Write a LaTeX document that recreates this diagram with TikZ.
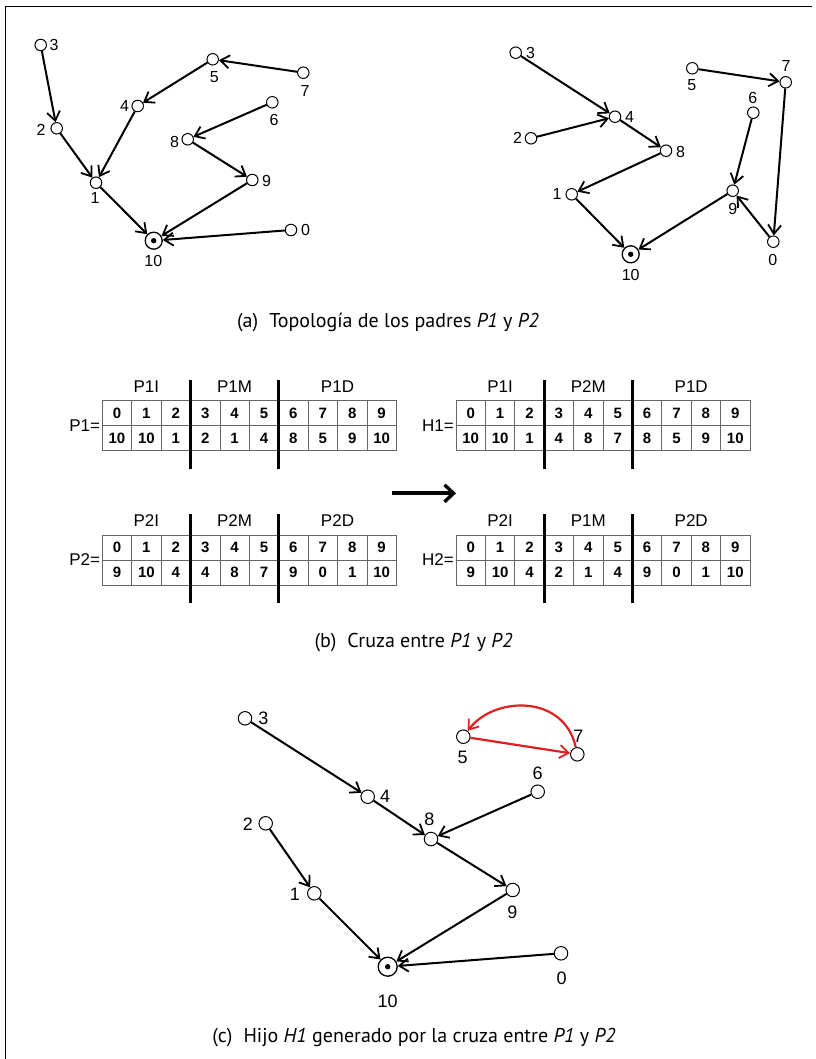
\documentclass[tikz,border=0pt]{standalone}
\usepackage{fontspec}
\setmainfont{PT Sans}
\newfontfamily\arial{Liberation Sans}
\usetikzlibrary{arrows.meta}
\newcommand\gatable[6]{%
  \begin{scope}[shift={(#1,#2)}]
    \draw[tgrid] (0,0) rectangle (294,50);
    \foreach \i in {1,2,4,5,7,8,9} \draw[tgrid] (\i*29.4,0) -- (\i*29.4,50);
    \draw[tgrid] (0,25) -- (294,25);
    \foreach \i in {3,6} \draw[sepline] (\i*29.4,-21) -- (\i*29.4,68);
    \node[hdr] (#3hI) at (44.1,-14) {#4};
    \node[hdr] (#3hM) at (132.3,-14) {#5};
    \node[hdr] (#3hD) at (235.2,-14) {#6};
    \node[hdr,anchor=east] (#3lbl) at (-2,25) {#3=};
    \foreach \v [count=\k from 0] in {0,1,2,3,4,5,6,7,8,9}
      \node[cell] (#3t\k) at (\k*29.4+14.7,12.5) {\v};
  \end{scope}}
\newcommand\gabottom[4]{%
  \begin{scope}[shift={(#1,#2)}]
    \foreach \v [count=\k from 0] in {#4}
      \node[cell] (#3b\k) at (\k*29.4+14.7,37.5) {\v};
  \end{scope}}
\begin{document}
\begin{tikzpicture}[x=1pt,y=-1pt,
  v/.style={circle,draw,line width=1pt,minimum size=11.5pt,inner sep=0pt,fill=white},
  vc/.style={v,minimum size=13.5pt},
  root/.style={circle,draw,line width=1.3pt,minimum size=17pt,inner sep=0pt,fill=white,
     path picture={\fill[black] (path picture bounding box.center) circle (2.7pt);}},
  lbl/.style={font=\arial\fontsize{16}{16}\selectfont,inner sep=0pt},
  lblc/.style={font=\arial\fontsize{18}{18}\selectfont,inner sep=0pt},
  e/.style={-{Straight Barb[length=9pt,width=13pt,line width=1.8pt]},line width=2pt,black},
  re/.style={-{Straight Barb[length=9pt,width=13pt,line width=1.8pt]},line width=2.2pt,redc},
  tgrid/.style={draw=black!60,line width=0.7pt},
  sepline/.style={line width=2.8pt,black},
  hdr/.style={font=\arial\fontsize{17}{17}\selectfont,inner sep=0pt},
  cell/.style={font=\arial\bfseries\fontsize{15}{15}\selectfont,inner sep=0pt},
  captext/.style={font=\fontsize{20}{20}\selectfont,inner sep=0pt}
]
\definecolor{redc}{RGB}{222,32,32}
\useasboundingbox (0,0) rectangle (815,1059);
% frame
\coordinate (fbl) at (5,1059);
\coordinate (ftl) at (5,6);
\coordinate (ftr) at (812,6);
\draw[line width=0.8pt] (fbl) -- (ftl) -- (ftr);

% ---------------- graph (a) left: P1
\node[v] (a3) at (40.7,45) {};
\node[v] (a2) at (56.7,128.3) {};
\node[v] (a1) at (96,182.7) {};
\node[v] (a4) at (137.7,106) {};
\node[v] (a5) at (212.7,59.3) {};
\node[v] (a7) at (303.3,72.7) {};
\node[v] (a6) at (272.3,102.3) {};
\node[v] (a8) at (187.7,139.3) {};
\node[v] (a9) at (252.3,180) {};
\node[root] (a10) at (153.7,240.7) {};
\node[v] (a0) at (291,230) {};
\node[lbl] (a3l) at (54,45) {3};
\node[lbl] (a2l) at (41,130) {2};
\node[lbl] (a1l) at (95,198) {1};
\node[lbl] (a4l) at (124.5,106) {4};
\node[lbl] (a5l) at (214.3,77) {5};
\node[lbl] (a7l) at (305,91) {7};
\node[lbl] (a6l) at (274,120) {6};
\node[lbl] (a8l) at (174.5,141.7) {8};
\node[lbl] (a9l) at (266.5,180.7) {9};
\node[lbl] (a10l) at (153.3,260.5) {10};
\node[lbl] (a0l) at (305.5,230) {0};
\draw[e] (a3) -- (a2);
\draw[e] (a2) -- (a1);
\draw[e] (a4) -- (a1);
\draw[e] (a5) -- (a4);
\draw[e] (a7) -- (a5);
\draw[e] (a6) -- (a8);
\draw[e] (a8) -- (a9);
\draw[e] (a9) -- (a10);
\draw[e] (a1) -- (a10);
\draw[e] (a0) -- (a10);

% ---------------- graph (a) right: P2
\node[v] (b3) at (515.7,52.7) {};
\node[v] (b4) at (615,116.7) {};
\node[v] (b2) at (531,138.3) {};
\node[v] (b8) at (666,150.7) {};
\node[v] (b1) at (571.7,194.3) {};
\node[root] (b10) at (630.7,254.3) {};
\node[v] (b5) at (692.3,68.3) {};
\node[v] (b7) at (785.7,82.3) {};
\node[v] (b6) at (753.3,112.7) {};
\node[v] (b9) at (732.7,190.7) {};
\node[v] (b0) at (773.3,241.7) {};
\node[lbl] (b3l) at (530.5,52.7) {3};
\node[lbl] (b4l) at (629.5,116.7) {4};
\node[lbl] (b2l) at (517.5,138.3) {2};
\node[lbl] (b8l) at (680.5,151.7) {8};
\node[lbl] (b1l) at (557,194.3) {1};
\node[lbl] (b10l) at (630.7,275) {10};
\node[lbl] (b5l) at (691.7,85) {5};
\node[lbl] (b7l) at (786,66) {7};
\node[lbl] (b6l) at (752.7,97.5) {6};
\node[lbl] (b9l) at (732.7,209) {9};
\node[lbl] (b0l) at (772.7,260) {0};
\draw[e] (b3) -- (b4);
\draw[e] (b2) -- (b4);
\draw[e] (b4) -- (b8);
\draw[e] (b8) -- (b1);
\draw[e] (b1) -- (b10);
\draw[e] (b9) -- (b10);
\draw[e] (b5) -- (b7);
\draw[e] (b7) -- (b0);
\draw[e] (b0) -- (b9);
\draw[e] (b6) -- (b9);

\node[captext] (capa) at (388,322) {(a)\hspace{0.55em}Topología de los padres \textit{P1} y \textit{P2}};

% ---------------- tables (b)
\gatable{102.3}{400.7}{P1}{P1I}{P1M}{P1D}
\gabottom{102.3}{400.7}{P1}{10,10,1,2,1,4,8,5,9,10}
\gatable{102.3}{535}{P2}{P2I}{P2M}{P2D}
\gabottom{102.3}{535}{P2}{9,10,4,4,8,7,9,0,1,10}
\gatable{456}{400.7}{H1}{P1I}{P2M}{P1D}
\gabottom{456}{400.7}{H1}{10,10,1,4,8,7,8,5,9,10}
\gatable{456}{535}{H2}{P2I}{P1M}{P2D}
\gabottom{456}{535}{H2}{9,10,4,2,1,4,9,0,1,10}
\coordinate (arrS) at (392,493.3);
\coordinate (arrE) at (456,493.3);
\draw[line width=4pt,-{Straight Barb[length=9pt,width=17pt,line width=3.4pt]}] (arrS) -- (arrE);

\node[captext] (capb) at (413.5,643) {(b)\hspace{0.55em}Cruza entre \textit{P1} y \textit{P2}};

% ---------------- graph (c): H1
\node[vc] (c3) at (245,718.3) {};
\node[vc] (c5) at (463.3,736.7) {};
\node[vc] (c7) at (577.3,754.3) {};
\node[vc] (c6) at (537.7,791.7) {};
\node[vc] (c4) at (367.7,796.7) {};
\node[vc] (c2) at (265.7,823.3) {};
\node[vc] (c8) at (431,839) {};
\node[vc] (c9) at (512.7,890) {};
\node[vc] (c1) at (314.3,893.3) {};
\node[root,minimum size=19pt] (c10) at (387.7,966.7) {};
\node[vc] (c0) at (561,953.3) {};
\node[lblc] (c3l) at (263.5,718) {3};
\node[lblc] (c5l) at (462.7,757) {5};
\node[lblc] (c7l) at (578.3,736) {7};
\node[lblc] (c6l) at (537.7,773.5) {6};
\node[lblc] (c4l) at (385,796.7) {4};
\node[lblc] (c2l) at (248,824) {2};
\node[lblc] (c8l) at (429.3,819.5) {8};
\node[lblc] (c9l) at (512.3,912) {9};
\node[lblc] (c1l) at (295,894.3) {1};
\node[lblc] (c0l) at (561.7,978) {0};
\node[lblc] (c10l) at (387.7,1001) {10};
\draw[e] (c3) -- (c4);
\draw[e] (c4) -- (c8);
\draw[e] (c6) -- (c8);
\draw[e] (c8) -- (c9);
\draw[e] (c9) -- (c10);
\draw[e] (c2) -- (c1);
\draw[e] (c1) -- (c10);
\draw[e] (c0) -- (c10);
\draw[re] (c5) -- (c7);
\draw[re] (c7) .. controls (564,694) and (494,696) .. (c5);

\node[captext] (capc) at (414,1038) {(c)\hspace{0.55em}Hijo \textit{H1} generado por la cruza entre \textit{P1} y \textit{P2}};
\end{tikzpicture}
\end{document}
